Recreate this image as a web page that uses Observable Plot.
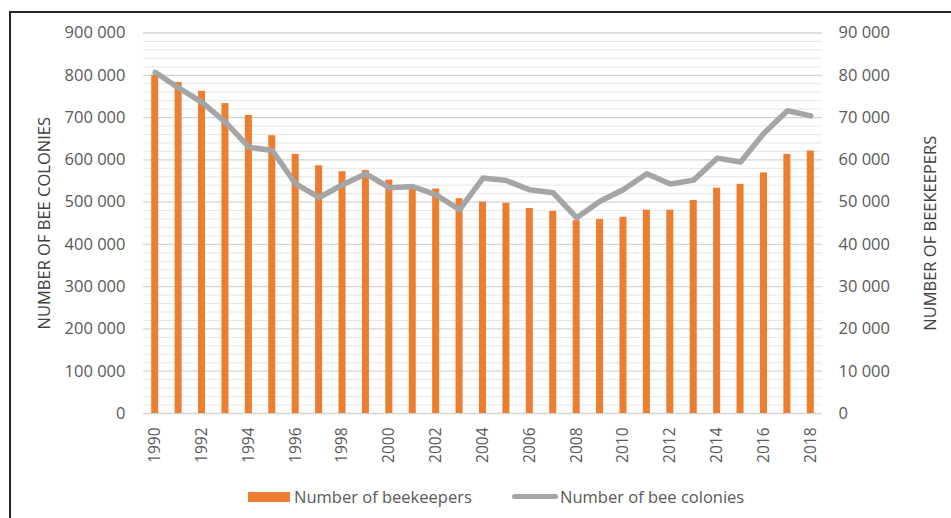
<!DOCTYPE html>
<html>
<head>
<meta charset="utf-8">
<script src="https://cdn.jsdelivr.net/npm/d3@7"></script>
<script src="https://cdn.jsdelivr.net/npm/@observablehq/plot@0.6"></script>
<style>
  html, body { margin: 0; padding: 0; background: #fff; }
  #wrap { position: relative; width: 951px; height: 518px; overflow: hidden; font-family: "Open Sans", sans-serif; }
  #frame { position: absolute; left: 9px; top: 11px; width: 960px; height: 540px; border-left: 2px solid #262626; border-top: 2px solid #262626; box-sizing: border-box; }
  #chart { position: absolute; left: 0; top: 0; }
  .leg { position: absolute; top: 485px; font-size: 16.5px; color: #595959; white-space: nowrap; line-height: 24px; }
  .sw { position: absolute; }
</style>
</head>
<body>
<div id="wrap">
  <div id="frame"></div>
  <div id="chart"></div>
  <div class="sw" style="left:248px; top:492px; width:42px; height:10px; background:#ed7d31;"></div>
  <div class="leg" style="left:294px;">Number of beekeepers</div>
  <div class="sw" style="left:512px; top:494px; width:46px; height:5px; background:#a5a5a5; border-radius:3px;"></div>
  <div class="leg" style="left:560px;">Number of bee colonies</div>
</div>
<script>
const years = [1990,1991,1992,1993,1994,1995,1996,1997,1998,1999,2000,2001,2002,2003,2004,2005,2006,2007,2008,2009,2010,2011,2012,2013,2014,2015,2016,2017,2018];
const beekeepers = [80000,78300,76200,73300,70500,65700,61300,58600,57200,57500,55200,53500,53100,50800,50000,49700,48500,47800,45600,45900,46400,48100,48100,50400,53300,54200,56900,61300,62100];
const colonies = [807000,770000,736000,689000,630000,622000,543000,511000,541000,567000,534000,537000,517000,482000,557000,551000,529000,522000,463000,502000,530000,567000,543000,552000,604000,595000,663000,716000,704000];
const leftTicks = [0,100000,200000,300000,400000,500000,600000,700000,800000,900000];
const xTickYears = [1990,1992,1994,1996,1998,2000,2002,2004,2006,2008,2010,2012,2014,2016,2018];
const leftTitle = "NUMBER OF BEE COLONIES";
const rightTitle = "NUMBER OF BEEKEEPERS";

const data = years.map((y, i) => ({year: y, keepers: beekeepers[i], colonies: colonies[i]}));
const RATIO = 10; // right axis (beekeepers) = left axis (colonies) / 10
const fmt = v => d3.format(",")(v).replace(/,/g, " ");
const minor = d3.range(0, 900001, 20000).filter(v => v % 100000 !== 0);

const chart = Plot.plot({
  width: 951,
  height: 480,
  marginTop: 32.5,
  marginBottom: 67,
  marginLeft: 143,
  marginRight: 129,
  style: {fontFamily: "Open Sans, sans-serif", fontSize: "16px", color: "#595959", background: "transparent"},
  x: {type: "band", domain: years, paddingInner: 0.7, paddingOuter: 0.35, align: 0.5, round: false},
  y: {domain: [0, 900000], range: [413, 32.5]},
  marks: [
    Plot.ruleY(minor, {stroke: "#e6e6e6", strokeWidth: 1}),
    Plot.ruleY(leftTicks, {stroke: "#d4d4d4", strokeWidth: 1.3}),
    Plot.barY(data, {x: "year", y: d => d.keepers * RATIO, fill: "#ed7d31"}),
    Plot.line(data, {x: "year", y: "colonies", stroke: "#a5a5a5", strokeWidth: 5.5, strokeLinejoin: "round", strokeLinecap: "round"}),
    Plot.axisY(leftTicks, {anchor: "left", tickSize: 0, tickPadding: 18, tickFormat: fmt, label: null, fontSize: 16.5}),
    Plot.axisY(leftTicks, {anchor: "right", tickSize: 0, tickPadding: 16, tickFormat: v => fmt(v / RATIO), label: null, fontSize: 16.5}),
    Plot.axisX(xTickYears, {anchor: "bottom", tickSize: 0, tickPadding: 14, tickRotate: -90, label: null, tickFormat: d => String(d), fontSize: 15.5}),
    Plot.text([leftTitle], {frameAnchor: "left", dx: -99, rotate: -90, textAnchor: "middle", fontSize: 16.5, fill: "#404040"}),
    Plot.text([rightTitle], {frameAnchor: "right", dx: 108, dy: 10, rotate: -90, textAnchor: "middle", fontSize: 16.5, fill: "#404040"})
  ]
});
document.getElementById("chart").appendChild(chart);
</script>
</body>
</html>
